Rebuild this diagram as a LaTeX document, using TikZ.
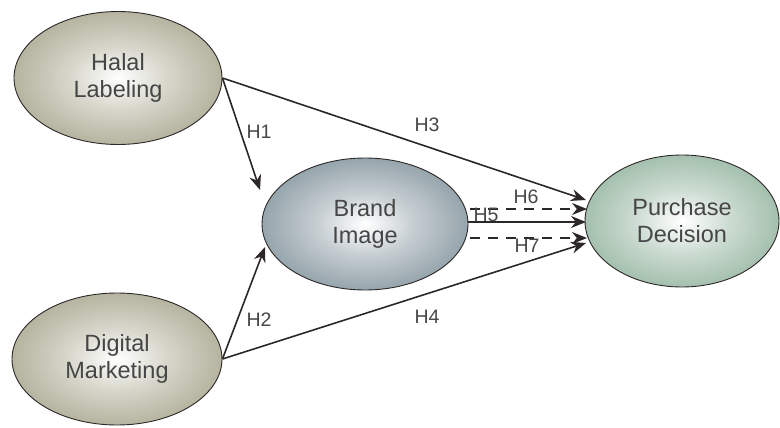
\documentclass[tikz,border=0pt]{standalone}
\usepackage{fontspec}
\setmainfont{Liberation Sans}
\usetikzlibrary{shapes.geometric,arrows.meta}
\definecolor{olivec}{RGB}{152,152,124}
\definecolor{brandc}{RGB}{110,130,140}
\definecolor{purchc}{RGB}{130,168,143}
\definecolor{txtc}{RGB}{70,70,70}
\definecolor{linec}{RGB}{45,40,40}
\pgfdeclareradialshading{oliveshade}{\pgfpoint{0bp}{0bp}}{color(0bp)=(white); color(12bp)=(olivec!40!white); color(28bp)=(olivec!80!white); color(44bp)=(olivec); color(100bp)=(olivec)}
\pgfdeclareradialshading{brandshade}{\pgfpoint{0bp}{0bp}}{color(0bp)=(white); color(12bp)=(brandc!40!white); color(28bp)=(brandc!80!white); color(44bp)=(brandc); color(100bp)=(brandc)}
\pgfdeclareradialshading{purchshade}{\pgfpoint{0bp}{0bp}}{color(0bp)=(white); color(12bp)=(purchc!40!white); color(28bp)=(purchc!80!white); color(44bp)=(purchc); color(100bp)=(purchc)}
\tikzset{
  construct/.style={ellipse, draw=linec, line width=0.9pt, inner sep=0pt,
    text=txtc, align=center, font=\fontsize{23.5}{27}\selectfont},
  arr/.style={draw=linec, line width=1.6pt, -{Stealth[length=15pt,width=12pt]}},
  darr/.style={arr, dash pattern=on 10pt off 8pt},
  hlab/.style={text=txtc, inner sep=0pt, font=\fontsize{19.5}{22}\selectfont}
}
\begin{document}
\begin{tikzpicture}[x=1pt,y=-1pt]
\useasboundingbox (0,0) rectangle (780,428);
\node[construct, minimum width=208pt, minimum height=133pt, shading=oliveshade] (halal) at (118,78) {Halal\\Labeling};
\node[construct, minimum width=210pt, minimum height=132pt, shading=oliveshade] (digital) at (117,359) {Digital\\Marketing};
\node[construct, minimum width=206pt, minimum height=132pt, shading=brandshade] (brand) at (365,224) {Brand\\Image};
\node[construct, minimum width=194pt, minimum height=132pt, shading=purchshade] (purchase) at (682,221) {Purchase\\Decision};
\coordinate (h1end) at (260,190);
\coordinate (h2end) at (265,247);
\coordinate (h3end) at (586,200);
\coordinate (h4end) at (586,243);
\coordinate (h5start) at (468,222);
\coordinate (h5end) at (586,222);
\coordinate (h6start) at (470,209);
\coordinate (h6end) at (587,209);
\coordinate (h7start) at (470,238);
\coordinate (h7end) at (587,238);
\draw[arr] (halal.east) -- (h1end);
\draw[arr] (digital.east) -- (h2end);
\draw[arr] (halal.east) -- (h3end);
\draw[arr] (digital.east) -- (h4end);
\draw[arr] (h5start) -- (h5end);
\draw[darr] (h6start) -- (h6end);
\draw[darr] (h7start) -- (h7end);
\node[hlab] (l1) at (259,132) {H1};
\node[hlab] (l2) at (259,320) {H2};
\node[hlab] (l3) at (427,125) {H3};
\node[hlab] (l4) at (427,317) {H4};
\node[hlab] (l5) at (486,215) {H5};
\node[hlab] (l6) at (526,197) {H6};
\node[hlab] (l7) at (527,246) {H7};
\end{tikzpicture}
\end{document}
